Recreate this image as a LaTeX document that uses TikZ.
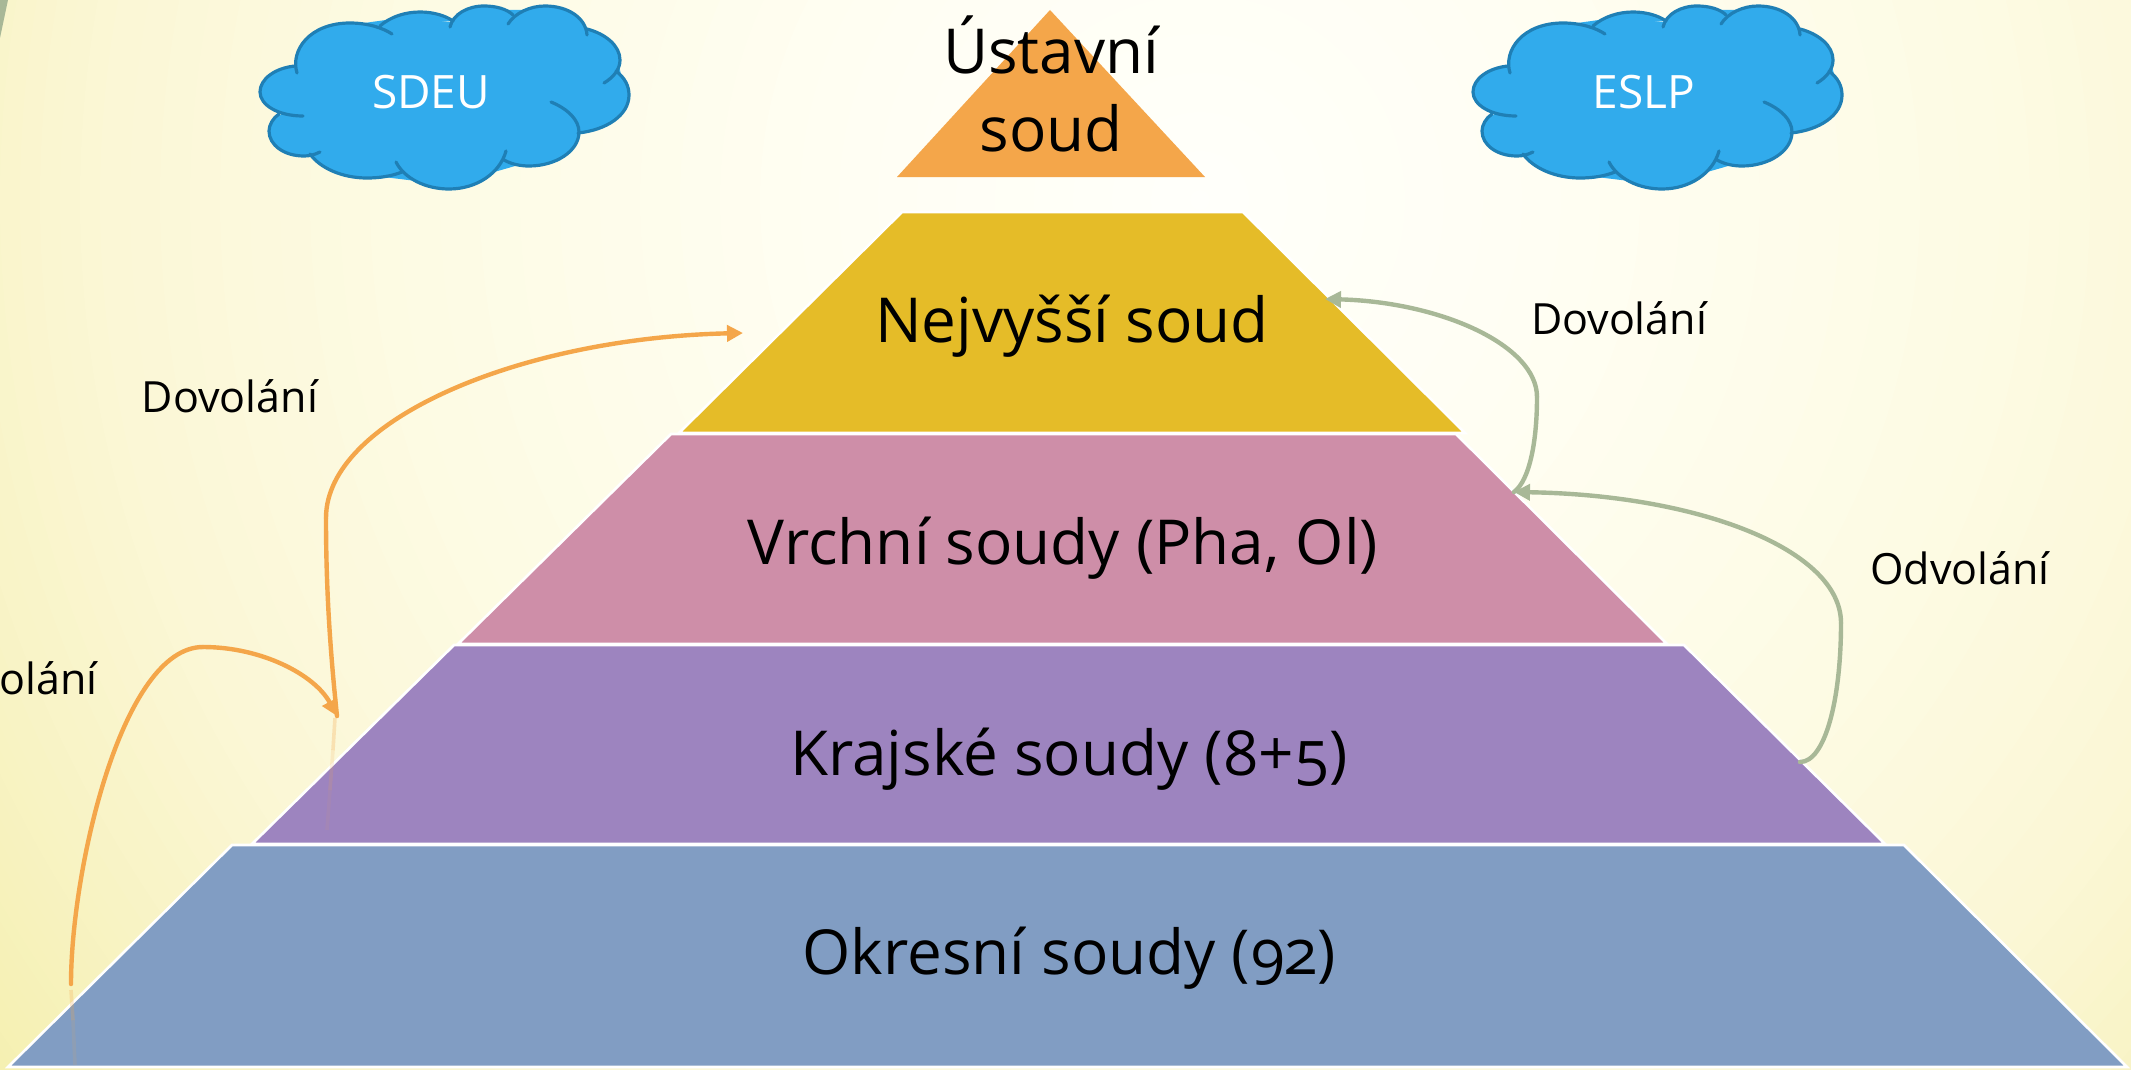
\documentclass[tikz,border=0pt]{standalone}
\usepackage{fontspec}
\setmainfont[Numbers=OldStyle]{Open Sans}
\usetikzlibrary{arrows.meta}
\definecolor{cFill}{HTML}{31ABEC}
\definecolor{cLine}{HTML}{1F7FB5}
\definecolor{orangeA}{HTML}{F4A64A}
\definecolor{greenA}{HTML}{A8B897}
\definecolor{layA}{HTML}{F4A64A}
\definecolor{layB}{HTML}{E5BC28}
\definecolor{layC}{HTML}{CE8EA8}
\definecolor{layD}{HTML}{9D84BF}
\definecolor{layE}{HTML}{819DC3}
\definecolor{bg0}{HTML}{FFFFFB}
\definecolor{bg1}{HTML}{FFFEF2}
\definecolor{bg2}{HTML}{FDFBE4}
\definecolor{bg3}{HTML}{FBF7D6}
\definecolor{bg4}{HTML}{F8F3C4}
\definecolor{bg5}{HTML}{F5F0B0}
\tikzset{
  layer/.style={draw=white,line width=2.6pt,line join=miter},
  big/.style={font=\fontsize{62}{74}\selectfont,inner sep=0pt,anchor=base,text=black},
  lab/.style={font=\fontsize{43}{50}\selectfont,inner sep=0pt,anchor=base,text=black},
  cloudtxt/.style={font=\fontsize{46}{54}\selectfont,inner sep=0pt,text=white},
  lump/.style={draw=cLine,line width=3.2pt,line cap=round,line join=round},
  lumpfill/.style={fill=cFill,draw=none},
  orangearc/.style={draw=orangeA,line width=4.4pt,line cap=round},
  greenarc/.style={draw=greenA,line width=4.4pt,line cap=round},
  head/.style={-{Triangle[width=16pt,length=16pt]}},
}
\newcommand{\lumpfillpart}[1]{\fill[lumpfill] #1;}
\newcommand{\lumpdrawpart}[1]{\draw[lump] #1;}
\newcommand{\cloudlumps}[1]{%
  #1{(297,73) .. controls (290,50) and (310,23) .. (350,23) .. controls (368,23) and (383,28) .. (392,34)}
  #1{(380,26) .. controls (390,17) and (405,12) .. (420,12) .. controls (434,12) and (446,16) .. (453,21)}
  #1{(450,27) .. controls (453,14) and (468,6) .. (484,6) .. controls (496,6) and (507,9) .. (513,15)}
  #1{(508,24) .. controls (515,13) and (530,6) .. (545,6) .. controls (568,6) and (586,18) .. (587,35)}
  #1{(587,29) .. controls (606,34) and (620,46) .. (620,60) .. controls (620,69) and (614,77) .. (604,83)}
  #1{(616,71) .. controls (625,78) and (629,86) .. (629,95) .. controls (629,115) and (607,130) .. (578,133)}
  #1{(551,102) .. controls (568,109) and (579,120) .. (579,132) .. controls (579,151) and (556,166) .. (529,166) .. controls (520,166) and (511,164) .. (504,160)}
  #1{(506,151) .. controls (500,173) and (477,189) .. (449,189) .. controls (425,189) and (404,178) .. (396,162)}
  #1{(402,172) .. controls (392,176) and (380,178) .. (367,178) .. controls (342,178) and (320,168) .. (310,154)}
  #1{(320,152) .. controls (314,155) and (309,156) .. (304,156) .. controls (284,156) and (269,145) .. (269,131) .. controls (269,125) and (273,118) .. (279,114)}
  #1{(303,116) .. controls (278,116) and (260,105) .. (260,92) .. controls (260,79) and (275,68) .. (295,66)}
}
\newcommand{\cloudshape}{%
  \fill[lumpfill] (295,67)--(312,35)--(350,25)--(400,18)--(450,22)--(484,10)--(545,10)--(587,28)--(605,38)--(618,60)--(625,95)--(580,130)--(529,162)--(449,185)--(367,175)--(304,152)--(272,131)--(282,112)--(264,92)--cycle;
  \cloudlumps{\lumpfillpart}
  \cloudlumps{\lumpdrawpart}
}
\begin{document}
\begin{tikzpicture}[x=1pt,y=-1pt]
\useasboundingbox (0,0) rectangle (2131,1070);
\begin{scope}
  \clip (0,0) rectangle (2131,1070);
  \fill[bg5] (0,0) rectangle (2131,1070);
  \foreach \i in {0,5,...,100}{
    \pgfmathsetmacro{\rr}{1500-\i*2}
    \fill[color=bg4!\i!bg5] (1200,200) circle (\rr);}
  \foreach \i in {0,10,...,100}{
    \pgfmathsetmacro{\rr}{1300-\i*2}
    \fill[color=bg3!\i!bg4] (1200,200) circle (\rr);}
  \foreach \i in {0,10,...,100}{
    \pgfmathsetmacro{\rr}{1100-\i*3}
    \fill[color=bg2!\i!bg3] (1200,200) circle (\rr);}
  \foreach \i in {0,10,...,100}{
    \pgfmathsetmacro{\rr}{800-\i*4}
    \fill[color=bg1!\i!bg2] (1200,200) circle (\rr);}
  \foreach \i in {0,10,...,100}{
    \pgfmathsetmacro{\rr}{400-\i*3.9}
    \fill[color=bg0!\i!bg1] (1200,200) circle (\rr);}
  \fill[greenA] (0,0) -- (8,0) -- (0,38) -- cycle;
\end{scope}

% clouds
\begin{scope}\cloudshape\end{scope}
\begin{scope}[xshift=1213pt]\cloudshape\end{scope}
\node[cloudtxt] (sdeu) at (431,92) {SDEU};
\node[cloudtxt] (eslp) at (1644,92) {ESLP};

% pyramid
\fill[layA] (1050,10) -- (1205,177) -- (897,177) -- cycle;
\path[layer,fill=layB] (902,212) -- (1243,212) -- (1465,433) -- (679,433) -- cycle;
\path[layer,fill=layC] (671,434) -- (1456,434) -- (1667,644) -- (458,644) -- cycle;
\path[layer,fill=layD] (454,645) -- (1684,645) -- (1885,844) -- (252,844) -- cycle;
\path[layer,fill=layE] (232,845) -- (1904,845) -- (2127,1067) -- (8,1067) -- cycle;

% texts
\node[big] (ustavni) at (1051,74) {Ústavní};
\node[big] (soudA) at (1051,151) {soud};
\node[big] (nejvyssi) at (1072,342) {Nejvyšší soud};
\node[big] (vrchni) at (1063,564) {Vrchní soudy (Pha, Ol)};
\node[big] (krajske) at (1069,775) {Krajské soudy (8+5)};
\node[big] (okresni) at (1069,974) {Okresní soudy (92)};
\node[lab] (dovA) at (230,412) {Dovolání};
\node[lab] (dovB) at (1619,334) {Dovolání};
\node[lab] (odvB) at (1960,584) {Odvolání};
\node[lab,anchor=base east] (odvA) at (98,694) {Odvolání};

% connector ends
\coordinate (oStart) at (71,984);
\coordinate (oMid) at (203,647);
\coordinate (oJoin) at (337,716);
\coordinate (oBend) at (326,518);
\coordinate (oTip) at (743,333);
\coordinate (gStart) at (1800,762);
\coordinate (gBend) at (1841,623);
\coordinate (gJoin) at (1514,492);
\coordinate (gBendB) at (1537,397);
\coordinate (gTip) at (1325,299);

% faint traces
\foreach \a/\b/\c/\d/\o in {335/718/333/750/.28,333/750/330/790/.16,330/790/327/830/.07,71/990/73/1020/.25,73/1020/75/1065/.12}{
  \draw[orangeA,line width=3.6pt,opacity=\o] (\a,\b) -- (\c,\d);
}

% connectors
\draw[orangearc] (oStart) .. controls (71,870) and (122,647) .. (oMid);
\draw[orangearc,head] (oMid) .. controls (262,647) and (315,675) .. (oJoin);
\draw[orangearc] (oJoin) .. controls (329,640) and (326,580) .. (oBend);
\draw[orangearc,head] (oBend) .. controls (326,420) and (520,338) .. (oTip);
\draw[greenarc] (gStart) .. controls (1825,762) and (1841,700) .. (gBend);
\draw[greenarc,head] (gBend) .. controls (1841,550) and (1700,495) .. (gJoin);
\draw[greenarc] (gJoin) .. controls (1530,480) and (1537,440) .. (gBendB);
\draw[greenarc,head] (gBendB) .. controls (1537,345) and (1440,302) .. (gTip);
\end{tikzpicture}
\end{document}
